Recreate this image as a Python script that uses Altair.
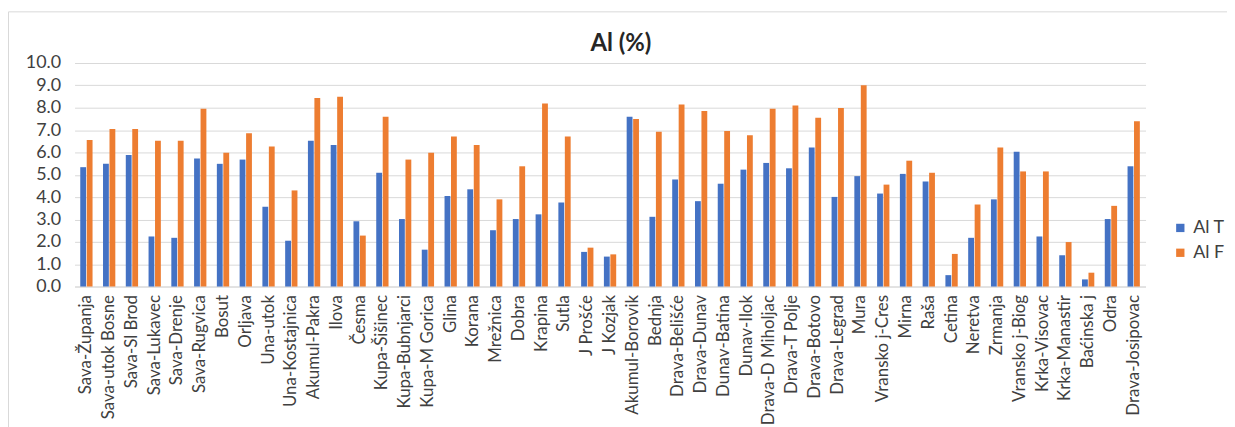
import altair as alt
import pandas as pd

sites = ["Sava-Županja", "Sava-utok Bosne", "Sava-Sl Brod", "Sava-Lukavec", "Sava-Drenje",
         "Sava-Rugvica", "Bosut", "Orljava", "Una-utok", "Una-Kostajnica", "Akumul-Pakra",
         "Ilova", "Česma", "Kupa-Šišinec", "Kupa-Bubnjarci", "Kupa-M Gorica", "Glina",
         "Korana", "Mrežnica", "Dobra", "Krapina", "Sutla", "J Prošće", "J Kozjak",
         "Akumul-Borovik", "Bednja", "Drava-Belišće", "Drava-Dunav", "Dunav-Batina",
         "Dunav-Ilok", "Drava-D Miholjac", "Drava-T Polje", "Drava-Botovo", "Drava-Legrad",
         "Mura", "Vransko j-Cres", "Mirna", "Raša", "Cetina", "Neretva", "Zrmanja",
         "Vransko j-Biog", "Krka-Visovac", "Krka-Manastir", "Baćinska j", "Odra",
         "Drava-Josipovac"]

al_t = [5.34, 5.49, 5.88, 2.24, 2.18, 5.73, 5.49, 5.68, 3.57, 2.05, 6.52,
        6.33, 2.92, 5.09, 3.02, 1.65, 4.05, 4.35, 2.52, 3.02, 3.23, 3.76, 1.55, 1.34,
        7.6, 3.12, 4.79, 3.82, 4.6, 5.23, 5.53, 5.29, 6.22, 4.01,
        4.94, 4.16, 5.04, 4.7, 0.51, 2.18, 3.9, 6.03, 2.24, 1.4, 0.32, 3.02, 5.38]

al_f = [6.56, 7.05, 7.05, 6.52, 6.52, 7.95, 5.99, 6.86, 6.27, 4.3, 8.43,
        8.49, 2.28, 7.6, 5.68, 5.99, 6.71, 6.33, 3.9, 5.38, 8.19, 6.71, 1.74, 1.44,
        7.5, 6.92, 8.14, 7.85, 6.96, 6.77, 7.95, 8.1, 7.55, 7.99,
        9.0, 4.56, 5.63, 5.09, 1.46, 3.67, 6.22, 5.15, 5.15, 1.99, 0.62, 3.61, 7.4]

series = ["Al T", "Al F"]
colors = ["#4472C4", "#ED7D31"]
y_ticks = [0, 1, 2, 3, 4, 5, 6, 7, 8, 9, 10]
title_text = "Al (%)"

rows = []
for s, t, f in zip(sites, al_t, al_f):
    rows.append({"site": s, "series": "Al T", "value": t})
    rows.append({"site": s, "series": "Al F", "value": f})
df = pd.DataFrame(rows)

FONT = "Lato"
LABEL = "#404040"

bars = alt.Chart(df).mark_bar().encode(
    x=alt.X("site:N", sort=sites, title=None,
            scale=alt.Scale(paddingInner=0.46, paddingOuter=0.25),
            axis=alt.Axis(labelAngle=-90, ticks=False, domainColor="#d9d9d9",
                          labelFontSize=17, labelColor=LABEL, labelFont=FONT,
                          labelPadding=8, labelLimit=300)),
    xOffset=alt.XOffset("series:N", sort=series, scale=alt.Scale(paddingInner=0.1)),
    y=alt.Y("value:Q", title=None,
            scale=alt.Scale(domain=[0, 10], nice=False),
            axis=alt.Axis(values=y_ticks, format=".1f", ticks=False, domain=False,
                          gridColor="#d9d9d9", labelFontSize=18, labelColor=LABEL,
                          labelFont=FONT, labelPadding=14)),
    color=alt.Color("series:N", sort=series, title=None,
                    scale=alt.Scale(domain=series, range=colors),
                    legend=alt.Legend(orient="none", legendX=1104, legendY=157,
                                      symbolType="square", symbolSize=70,
                                      symbolStrokeWidth=0,
                                      labelFontSize=18, labelFont=FONT,
                                      labelColor=LABEL, rowPadding=7)),
)

border_df = pd.DataFrame({"k": [0]})
border = alt.Chart(border_df).mark_rect(fill=None, stroke="#d9d9d9", strokeWidth=1).encode(
    x=alt.value(-66.5), x2=alt.value(1300), y=alt.value(-51.5), y2=alt.value(420)
)

title = alt.Chart(pd.DataFrame({"t": [title_text]})).mark_text(
    font=FONT, fontSize=24, fontWeight="bold", color="#262626",
    align="center", baseline="alphabetic"
).encode(text="t:N", x=alt.value(550), y=alt.value(-12))

chart = alt.layer(border, bars, title).properties(
    width=1078, height=225,
    autosize=alt.AutoSizeParams(type="none"),
    padding={"left": 67, "top": 54, "right": 82, "bottom": 140},
).configure_view(stroke=None)

chart.save("out.html", embed_options={"renderer": "svg", "actions": False})
